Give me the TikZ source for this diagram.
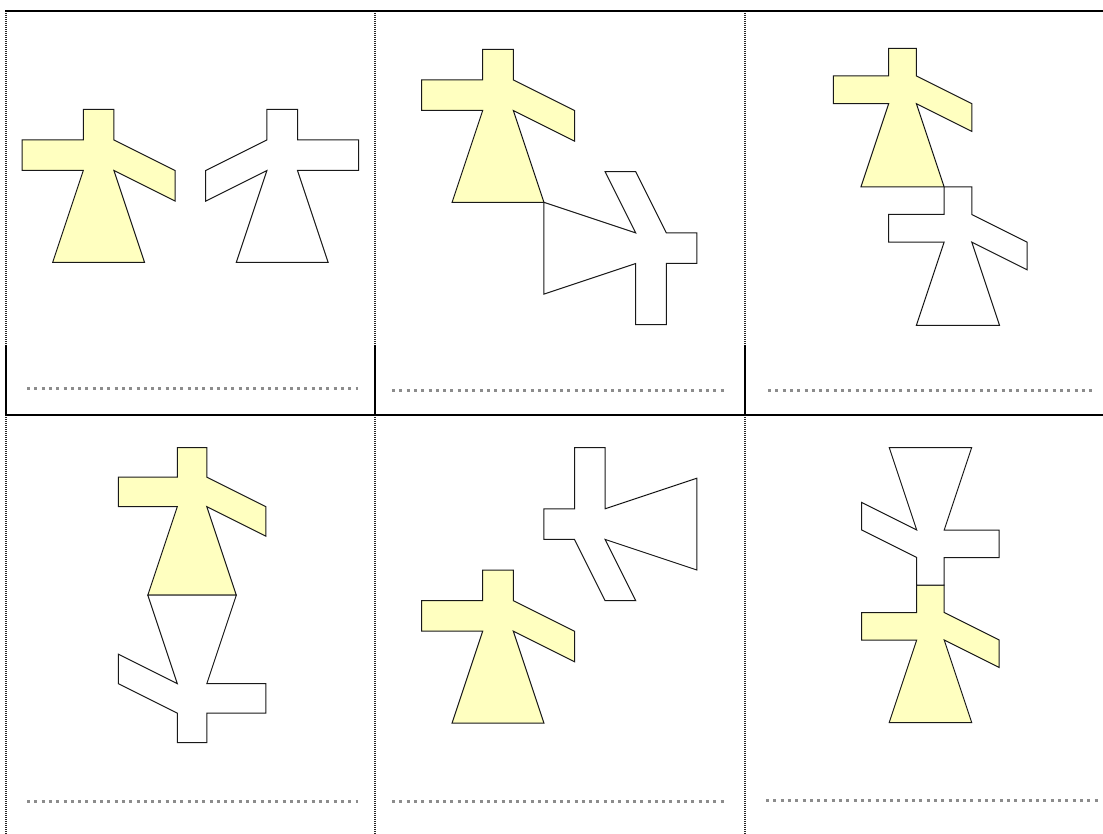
\documentclass[tikz,border=0pt]{standalone}
\usetikzlibrary{calc}
\definecolor{dollYellow}{RGB}{255,255,192}
\definecolor{dollGray}{RGB}{140,140,140}
\newcommand{\dollpath}{(0,0) -- (1,0) -- (1,1) -- (3,2) -- (3,3) -- (1,2) -- (2,5) -- (-1,5) -- (0,2) -- (-2,2) -- (-2,1) -- (0,1) -- cycle}

\begin{document}
\begin{tikzpicture}[
  x=1pt, y=-1pt,
  frame/.style={line width=2pt,black},
  finerule/.style={line width=2pt,black!85,dash pattern=on 1pt off 1pt},
  answer/.style={line width=3pt,dollGray,dash pattern=on 3pt off 4.3pt},
  yellowdoll/.style={draw=black!90,fill=dollYellow,line width=1pt},
  whitedoll/.style={draw=black!90,fill=white,line width=1pt}
]
  \useasboundingbox (0,0) rectangle (1103,834);
  \foreach \xx in {6,375,745} {
    \draw[finerule] (\xx,11) -- (\xx,345);
    \draw[frame] (\xx,345) -- (\xx,415);
    \draw[finerule] (\xx,415) -- (\xx,834);
  }
  \draw[frame] (5,11) -- (1103,11);
  \draw[frame] (5,415) -- (1103,415);
  \draw[answer] (27,388.5) -- (358,388.5);
  \draw[answer] (392,390.5) -- (724,390.5);
  \draw[answer] (768,390.5) -- (1093,390.5);
  \draw[answer] (27,801.5) -- (358,801.5);
  \draw[answer] (392,801.5) -- (724,801.5);
  \draw[answer] (766,800.5) -- (1098,800.5);

  \begin{scope}[shift={(83.3,109.3)},scale=30.6]
    \draw[yellowdoll] \dollpath;
  \end{scope}
  \begin{scope}[shift={(297.5,109.3)},scale=30.6,xscale=-1]
    \draw[whitedoll] \dollpath;
  \end{scope}

  \begin{scope}[shift={(482.7,49.3)},scale=30.6]
    \draw[yellowdoll] \dollpath;
  \end{scope}
  \begin{scope}[shift={(696.9,263.5)},cm={0,1,1,0,(0,0)},scale=30.6]
    \draw[whitedoll] \dollpath;
  \end{scope}

  \begin{scope}[shift={(888.7,48.3)},scale=27.7]
    \draw[yellowdoll] \dollpath;
  \end{scope}
  \begin{scope}[shift={(944.1,186.8)},scale=27.7]
    \draw[whitedoll] \dollpath;
  \end{scope}

  \begin{scope}[shift={(177.3,447.7)},scale=29.5]
    \draw[yellowdoll] \dollpath;
  \end{scope}
  \begin{scope}[shift={(206.8,742.7)},rotate=180,scale=29.5]
    \draw[whitedoll] \dollpath;
  \end{scope}

  \begin{scope}[shift={(482.7,570)},scale=30.6]
    \draw[yellowdoll] \dollpath;
  \end{scope}
  \begin{scope}[shift={(543.9,508.8)},cm={0,-1,-1,0,(0,0)},scale=30.6]
    \draw[whitedoll] \dollpath;
  \end{scope}

  \begin{scope}[shift={(916.7,585)},scale=27.5]
    \draw[yellowdoll] \dollpath;
  \end{scope}
  \begin{scope}[shift={(944.2,585)},rotate=180,scale=27.5]
    \draw[whitedoll] \dollpath;
  \end{scope}
\end{tikzpicture}
\end{document}
